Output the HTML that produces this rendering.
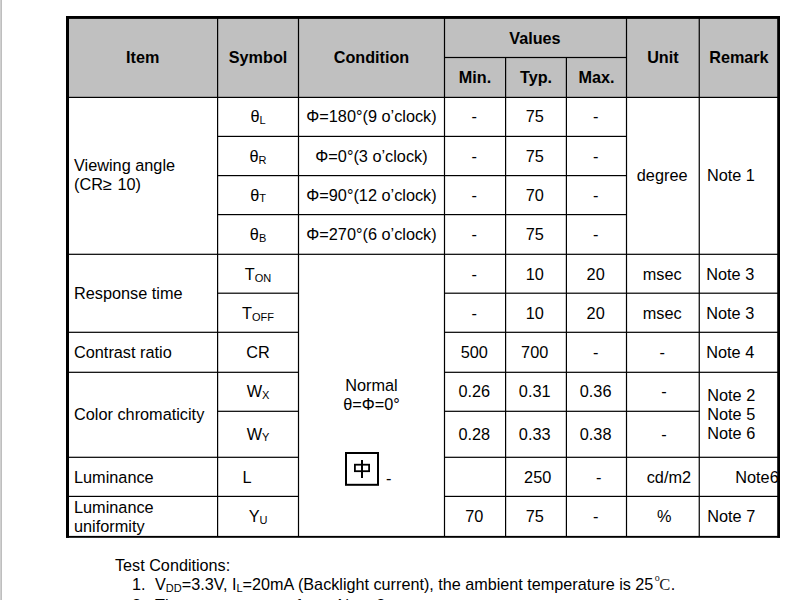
<!DOCTYPE html>
<html><head><meta charset="utf-8"><title>Optical</title>
<style>
html,body{margin:0;padding:0;background:#fff;}
body{width:801px;height:600px;position:relative;overflow:hidden;font-family:"Liberation Sans",sans-serif;font-size:16.3px;color:#000;}
.l{position:absolute;background:#000;}
.c{position:absolute;display:flex;align-items:center;justify-content:center;white-space:nowrap;line-height:19px;}
.c.left{justify-content:flex-start;}
.b{font-weight:bold;font-size:16.2px;}
.s{font-size:11px;position:relative;top:1.6px;line-height:0;}
.n{font-size:16.2px;}
.t{position:absolute;white-space:nowrap;line-height:19px;}
</style></head><body>
<div style="position:absolute;left:0;top:0;width:1px;height:600px;background:#cfcfcf"></div>
<div style="position:absolute;left:1px;top:0;width:1px;height:600px;background:#bebebe"></div>
<div style="position:absolute;left:68px;top:18px;width:710px;height:79px;background:#c0c0c0"></div>

<svg style="position:absolute;left:0;top:0" width="801" height="600" fill="#000"><rect x="66" y="16" width="714" height="2.9"/><rect x="66" y="16" width="3" height="521.8"/><rect x="777.2" y="16" width="2.8" height="521.8"/><rect x="66" y="535.9" width="714" height="1.9"/><rect x="217.0" y="17" width="1.2" height="520"/><rect x="297.9" y="17" width="1.2" height="520"/><rect x="443.9" y="17" width="1.2" height="520"/><rect x="505.0" y="57.5" width="1.2" height="479.5"/><rect x="565.8" y="57.5" width="1.2" height="479.5"/><rect x="625.9" y="17" width="1.2" height="520"/><rect x="698.65" y="17" width="1.2" height="520"/><rect x="444.5" y="56.9" width="182.0" height="1.2"/><rect x="67" y="96.8" width="711" height="1.2"/><rect x="217.6" y="135.8" width="408.9" height="1.2"/><rect x="217.6" y="175.0" width="408.9" height="1.2"/><rect x="217.6" y="214.0" width="408.9" height="1.2"/><rect x="67" y="253.7" width="711" height="1.2"/><rect x="217.6" y="292.6" width="80.9" height="1.2"/><rect x="444.5" y="292.6" width="333.5" height="1.2"/><rect x="67" y="331.7" width="231.5" height="1.2"/><rect x="444.5" y="331.7" width="333.5" height="1.2"/><rect x="67" y="371.7" width="231.5" height="1.2"/><rect x="444.5" y="371.7" width="333.5" height="1.2"/><rect x="217.6" y="410.7" width="80.9" height="1.2"/><rect x="444.5" y="410.7" width="254.75" height="1.2"/><rect x="67" y="456.7" width="231.5" height="1.2"/><rect x="444.5" y="456.7" width="333.5" height="1.2"/><rect x="67" y="495.8" width="231.5" height="1.2"/><rect x="444.5" y="495.8" width="333.5" height="1.2"/></svg>
<div class="c b" style="left:68.4px;top:17.5px;width:148.6px;height:79.9px"><span>Item</span></div>
<div class="c b" style="left:217.6px;top:17.5px;width:80.9px;height:79.9px"><span>Symbol</span></div>
<div class="c b" style="left:298.5px;top:17.5px;width:146.0px;height:79.9px"><span>Condition</span></div>
<div class="c b" style="left:443.9px;top:18.9px;width:182.0px;height:40.0px"><span>Values</span></div>
<div class="c b" style="left:444.5px;top:57.5px;width:61.1px;height:39.9px"><span>Min.</span></div>
<div class="c b" style="left:505.6px;top:57.5px;width:60.8px;height:39.9px"><span>Typ.</span></div>
<div class="c b" style="left:566.4px;top:57.5px;width:60.1px;height:39.9px"><span>Max.</span></div>
<div class="c b" style="left:626.5px;top:17.5px;width:72.75px;height:79.9px"><span>Unit</span></div>
<div class="c b" style="left:699.25px;top:17.5px;width:79.35px;height:79.9px"><span>Remark</span></div>
<div class="c left" style="left:69px;top:96.7px;width:148.6px;height:156.9px"><div style="padding-left:5px">Viewing angle<br>(CR&#8805;<span style="letter-spacing:1px"> </span>10)</div></div>
<div class="c " style="left:217.6px;top:97.4px;width:80.9px;height:39.0px"><span>θ<span class="s">L</span></span></div>
<div class="c " style="left:298.5px;top:97.4px;width:146.0px;height:39.0px"><span>Φ=180°(9 o’clock)</span></div>
<div class="c " style="left:443.7px;top:97.4px;width:61.1px;height:39.0px"><span>-</span></div>
<div class="c " style="left:504.3px;top:97.4px;width:60.8px;height:39.0px"><span>75</span></div>
<div class="c " style="left:565.6px;top:97.4px;width:60.1px;height:39.0px"><span>-</span></div>
<div class="c " style="left:217.6px;top:137.4px;width:80.9px;height:39.2px"><span>θ<span class="s">R</span></span></div>
<div class="c " style="left:298.5px;top:137.4px;width:146.0px;height:39.2px"><span>Φ=0°(3 o’clock)</span></div>
<div class="c " style="left:443.7px;top:137.4px;width:61.1px;height:39.2px"><span>-</span></div>
<div class="c " style="left:504.3px;top:137.4px;width:60.8px;height:39.2px"><span>75</span></div>
<div class="c " style="left:565.6px;top:137.4px;width:60.1px;height:39.2px"><span>-</span></div>
<div class="c " style="left:217.6px;top:175.6px;width:80.9px;height:39.0px"><span>θ<span class="s">T</span></span></div>
<div class="c " style="left:298.5px;top:175.6px;width:146.0px;height:39.0px"><span>Φ=90°(12 o’clock)</span></div>
<div class="c " style="left:443.7px;top:175.6px;width:61.1px;height:39.0px"><span>-</span></div>
<div class="c " style="left:504.3px;top:175.6px;width:60.8px;height:39.0px"><span>70</span></div>
<div class="c " style="left:565.6px;top:175.6px;width:60.1px;height:39.0px"><span>-</span></div>
<div class="c " style="left:217.6px;top:214.6px;width:80.9px;height:39.7px"><span>θ<span class="s">B</span></span></div>
<div class="c " style="left:298.5px;top:214.6px;width:146.0px;height:39.7px"><span>Φ=270°(6 o’clock)</span></div>
<div class="c " style="left:443.7px;top:214.6px;width:61.1px;height:39.7px"><span>-</span></div>
<div class="c " style="left:504.3px;top:214.6px;width:60.8px;height:39.7px"><span>75</span></div>
<div class="c " style="left:565.6px;top:214.6px;width:60.1px;height:39.7px"><span>-</span></div>
<div class="c " style="left:625.8px;top:97.4px;width:72.75px;height:156.9px"><span>degree</span></div>
<div class="c left" style="left:699.25px;top:97.4px;width:79.35px;height:156.9px"><div style="padding-left:7.7px">Note 1</div></div>
<div class="c left" style="left:69px;top:254.3px;width:148.6px;height:78.0px"><div style="padding-left:5px">Response time</div></div>
<div class="c " style="left:217.6px;top:255.3px;width:80.9px;height:38.9px"><span>T<span class="s">ON</span></span></div>
<div class="c " style="left:217.6px;top:294.2px;width:80.9px;height:39.1px"><span>T<span class="s">OFF</span></span></div>
<div class="c " style="left:443.7px;top:255.3px;width:61.1px;height:38.9px"><span>-</span></div>
<div class="c " style="left:504.3px;top:255.3px;width:60.8px;height:38.9px"><span>10</span></div>
<div class="c " style="left:565.6px;top:255.3px;width:60.1px;height:38.9px"><span>20</span></div>
<div class="c " style="left:625.8px;top:255.3px;width:72.75px;height:38.9px"><span>msec</span></div>
<div class="c left" style="left:699.25px;top:255.3px;width:79.35px;height:38.9px"><div style="padding-left:7px">Note 3</div></div>
<div class="c " style="left:443.7px;top:294.2px;width:61.1px;height:39.1px"><span>-</span></div>
<div class="c " style="left:504.3px;top:294.2px;width:60.8px;height:39.1px"><span>10</span></div>
<div class="c " style="left:565.6px;top:294.2px;width:60.1px;height:39.1px"><span>20</span></div>
<div class="c " style="left:625.8px;top:294.2px;width:72.75px;height:39.1px"><span>msec</span></div>
<div class="c left" style="left:699.25px;top:294.2px;width:79.35px;height:39.1px"><div style="padding-left:7px">Note 3</div></div>
<div class="c left" style="left:69px;top:332.3px;width:148.6px;height:40.0px"><div style="padding-left:5px">Contrast ratio</div></div>
<div class="c " style="left:217.6px;top:332.3px;width:80.9px;height:40.0px"><span>CR</span></div>
<div class="c " style="left:443.7px;top:332.3px;width:61.1px;height:40.0px"><span>500</span></div>
<div class="c " style="left:504.3px;top:332.3px;width:60.8px;height:40.0px"><span>700</span></div>
<div class="c " style="left:565.6px;top:332.3px;width:60.1px;height:40.0px"><span>-</span></div>
<div class="c " style="left:625.8px;top:332.3px;width:72.75px;height:40.0px"><span>-</span></div>
<div class="c left" style="left:699.25px;top:332.3px;width:79.35px;height:40.0px"><div style="padding-left:7px">Note 4</div></div>
<div class="c left" style="left:69px;top:372.3px;width:148.6px;height:85.0px"><div style="padding-left:5px">Color chromaticity</div></div>
<div class="c " style="left:217.6px;top:372.3px;width:80.9px;height:39.0px"><span>W<span class="s">X</span></span></div>
<div class="c " style="left:217.6px;top:411.3px;width:80.9px;height:46.0px"><span>W<span class="s">Y</span></span></div>
<div class="c " style="left:443.7px;top:372.3px;width:61.1px;height:39.0px"><span>0.26</span></div>
<div class="c " style="left:504.3px;top:372.3px;width:60.8px;height:39.0px"><span>0.31</span></div>
<div class="c " style="left:565.6px;top:372.3px;width:60.1px;height:39.0px"><span>0.36</span></div>
<div class="c " style="left:627.5px;top:372.3px;width:72.75px;height:39.0px"><span>-</span></div>
<div class="c " style="left:443.7px;top:411.3px;width:61.1px;height:46.0px"><span>0.28</span></div>
<div class="c " style="left:504.3px;top:411.3px;width:60.8px;height:46.0px"><span>0.33</span></div>
<div class="c " style="left:565.6px;top:411.3px;width:60.1px;height:46.0px"><span>0.38</span></div>
<div class="c " style="left:627.5px;top:411.3px;width:72.75px;height:46.0px"><span>-</span></div>
<div class="c left" style="left:699.25px;top:372.3px;width:79.35px;height:85.0px"><div style="padding-left:8px">Note 2<br>Note 5<br>Note 6</div></div>
<div class="c left" style="left:69px;top:458.3px;width:148.6px;height:39.1px"><div style="padding-left:5px">Luminance</div></div>
<div class="c left" style="left:217.6px;top:458.3px;width:80.9px;height:39.1px"><div style="padding-left:25px">L</div></div>
<div class="c " style="left:507.3px;top:458.3px;width:60.8px;height:39.1px"><span>250</span></div>
<div class="c " style="left:568.6px;top:458.3px;width:60.1px;height:39.1px"><span>-</span></div>
<div class="c " style="left:632.5px;top:458.3px;width:72.75px;height:39.1px"><span>cd/m2</span></div>
<div class="c left" style="left:699.25px;top:458.3px;width:79.35px;height:39.1px"><div style="padding-left:36px">Note6</div></div>
<div class="c left" style="left:69px;top:496.4px;width:148.6px;height:40.5px"><div style="padding-left:5px">Luminance<br>uniformity</div></div>
<div class="c " style="left:217.6px;top:496.4px;width:80.9px;height:40.5px"><span>Y<span class="s">U</span></span></div>
<div class="c " style="left:443.7px;top:496.4px;width:61.1px;height:40.5px"><span>70</span></div>
<div class="c " style="left:504.3px;top:496.4px;width:60.8px;height:40.5px"><span>75</span></div>
<div class="c " style="left:565.6px;top:496.4px;width:60.1px;height:40.5px"><span>-</span></div>
<div class="c " style="left:627.8px;top:496.4px;width:72.75px;height:40.5px"><span>%</span></div>
<div class="c left" style="left:699.25px;top:496.4px;width:79.35px;height:40.5px"><div style="padding-left:8px">Note 7</div></div>
<div class="t" style="left:298.5px;width:146px;top:376px;text-align:center">Normal<br>θ=Φ=0°</div>
<svg style="position:absolute;left:340px;top:448px" width="44" height="44" viewBox="340 448 44 44">
<rect x="346" y="453" width="32" height="31.8" fill="#fff" stroke="#000" stroke-width="2"/>
<rect x="354.9" y="464.7" width="14.2" height="6.5" fill="none" stroke="#000" stroke-width="1.8"/>
<rect x="361" y="460" width="2" height="18" fill="#000"/>
</svg>
<div class="t" style="left:386px;top:468.8px">-</div>
<div class="t n" style="left:115px;top:556px">Test Conditions:</div>
<div class="t n" style="left:132px;top:575px">1.</div>
<div class="t n" style="left:155px;top:575px">V<span class="s">DD</span>=3.3V, I<span class="s">L</span>=20mA (Backlight current), the ambient temperature is 25<span style="font-family:'Liberation Serif',serif;font-size:10px;position:relative;top:-9px;margin-left:1.5px;color:#222">o</span><span style="font-family:'Liberation Serif',serif;font-size:16.5px;letter-spacing:0.3px;margin-left:-0.5px;color:#222">C</span>.</div>
<div class="t n" style="left:132px;top:596px">2.</div>
<div class="t n" style="left:155px;top:596px">The test systems refer to Note 2.</div>
</body></html>
